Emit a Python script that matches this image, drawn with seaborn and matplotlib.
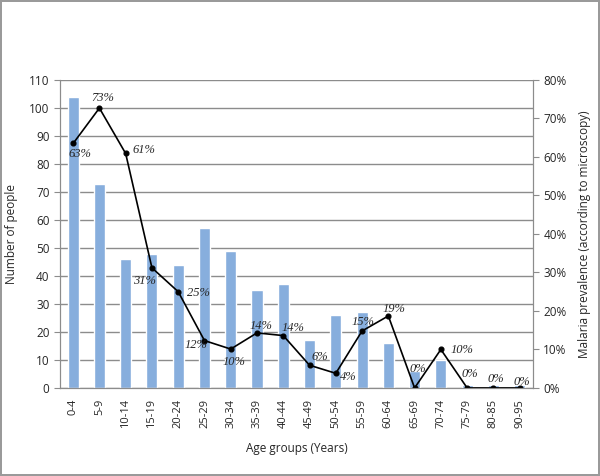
import numpy as np
import pandas as pd
import matplotlib
matplotlib.use('Agg')
import matplotlib.pyplot as plt
import seaborn as sns

# data
age_groups = ['0-4', '5-9', '10-14', '15-19', '20-24', '25-29', '30-34', '35-39', '40-44',
              '45-49', '50-54', '55-59', '60-64', '65-69', '70-74', '75-79', '80-85', '90-95']
n_people = [104, 73, 46, 48, 44, 57, 49, 35, 37, 17, 26, 27, 16, 6, 10, 1, 1, 1]
prevalence = [63.5, 72.7, 60.9, 31.2, 25.0, 12.3, 10.1, 14.3, 13.6, 5.9, 3.8, 14.8, 18.7,
              0.0, 10.0, 0.0, 0.0, 0.0]
prev_labels = ['63%', '73%', '61%', '31%', '25%', '12%', '10%', '14%', '14%', '6%', '4%',
               '15%', '19%', '0%', '10%', '0%', '0%', '0%']

# label offsets in pixels (style only)
label_offsets = [(7, -11), (3, 10), (18, 3), (-7, -13), (20, -1), (-8, -4), (3, -13), (4, 7),
                 (10, 8), (10, 8), (12, -4), (1, 9), (6, 7), (3, 19), (21, -1), (3, 14),
                 (2, 9), (2, 6)]

df = pd.DataFrame({'age': age_groups, 'n': n_people, 'prev': prevalence})

sns.set_style('white')
plt.rcParams['font.family'] = ['Open Sans', 'DejaVu Sans']
grey = '#8c8c8c'

fig = plt.figure(figsize=(6, 4.76), dpi=100, edgecolor='#9a9a9a', linewidth=1.5)
ax = fig.add_axes([0.1, 0.185, 0.788, 0.647])

sns.barplot(data=df, x='age', y='n', ax=ax, color='#87AEDD', saturation=1, width=0.42)
ax.set_ylim(0, 110)
ax.set_yticks(np.arange(0, 111, 10))
ax.set_xlim(-0.5, len(age_groups) - 0.5)
ax.grid(axis='y', color=grey, linewidth=1)
ax.set_axisbelow(True)
ax.set_xlabel('Age groups (Years)', fontsize=8.5, labelpad=10)
ax.set_ylabel('Number of people', fontsize=8.5, labelpad=8)
ax.tick_params(axis='x', which='major', length=0, labelsize=8, labelrotation=90, pad=8)
ax.set_xticks(np.arange(-0.5, len(age_groups)), minor=True)
ax.tick_params(axis='x', which='minor', length=4, color=grey, direction='out')
ax.tick_params(axis='y', length=4, color=grey, direction='out', labelsize=8.5, left=True)
for s in ['top']:
    ax.spines[s].set_visible(False)
for s in ['left', 'bottom', 'right']:
    ax.spines[s].set_color(grey)

ax2 = ax.twinx()
sns.pointplot(data=df, x='age', y='prev', ax=ax2, color='black', markersize=3.5,
              linewidth=1.2, marker='o')
ax2.set_ylim(0, 80)
ax2.set_xlim(-0.5, len(age_groups) - 0.5)
ax2.set_yticks(np.arange(0, 81, 10))
ax2.set_yticklabels([f'{v}%' for v in range(0, 81, 10)])
ax2.set_ylabel('Malaria prevalence (according to microscopy)', fontsize=8.5, labelpad=8)
ax2.tick_params(axis='y', length=4, color=grey, direction='out', labelsize=8.5, right=True)
ax2.spines['top'].set_visible(False)
for s in ['left', 'bottom', 'right']:
    ax2.spines[s].set_color(grey)
ax2.grid(False)

for i, (v, lab) in enumerate(zip(prevalence, prev_labels)):
    ax2.annotate(lab, (i, v), xytext=label_offsets[i], textcoords='offset pixels',
                 ha='center', va='center', fontsize=9, style='italic',
                 family=['Liberation Serif', 'DejaVu Serif'])

fig.savefig('out.png', dpi=100)
